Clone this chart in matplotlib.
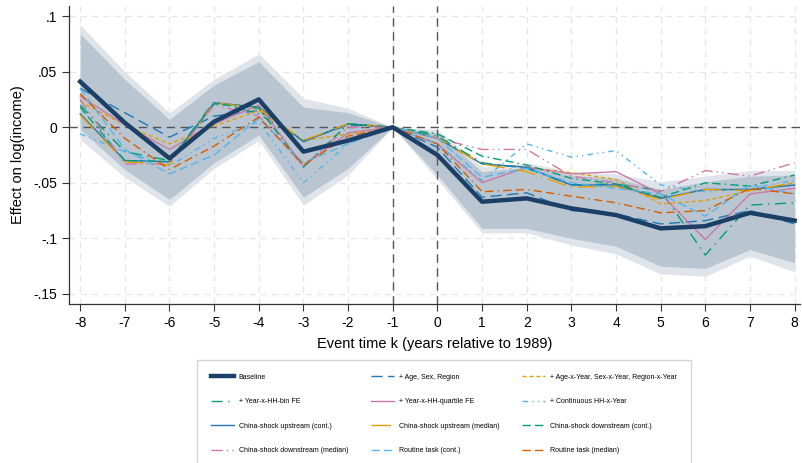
import matplotlib
matplotlib.use("Agg")
import matplotlib.pyplot as plt
import numpy as np

plt.rcParams['font.family'] = ['Liberation Sans', 'DejaVu Sans']

k = list(range(-8, 9))

baseline = [0.041, 0.004, -0.028, 0.005, 0.025, -0.022, -0.012, 0.0,
            -0.025, -0.067, -0.064, -0.073, -0.079, -0.091, -0.089, -0.077, -0.084]
ci_in_hi = [0.084, 0.043, 0.007, 0.038, 0.059, 0.018, 0.013, 0.0,
            -0.005, -0.040, -0.036, -0.043, -0.046, -0.056, -0.049, -0.044, -0.043]
ci_in_lo = [-0.002, -0.038, -0.065, -0.032, -0.007, -0.063, -0.037, 0.0,
            -0.043, -0.091, -0.091, -0.100, -0.107, -0.125, -0.127, -0.110, -0.122]
ci_out_hi = [0.092, 0.050, 0.013, 0.043, 0.066, 0.026, 0.017, 0.0,
             -0.002, -0.036, -0.032, -0.040, -0.042, -0.049, -0.044, -0.039, -0.039]
ci_out_lo = [-0.011, -0.045, -0.071, -0.037, -0.012, -0.070, -0.043, 0.0,
             -0.047, -0.095, -0.095, -0.106, -0.114, -0.132, -0.134, -0.116, -0.130]

age_sex_region = [0.035, 0.013, -0.009, 0.010, 0.015, -0.012, 0.002, 0.0,
                  -0.018, -0.063, -0.059, -0.075, -0.078, -0.087, -0.084, -0.075, -0.087]
age_x_year = [0.023, 0.002, -0.015, 0.001, 0.015, -0.012, -0.006, 0.0,
              -0.010, -0.033, -0.036, -0.041, -0.047, -0.069, -0.066, -0.057, -0.050]
hh_bin = [0.020, -0.022, -0.030, 0.023, 0.012, -0.013, 0.003, 0.0,
          -0.008, -0.032, -0.037, -0.052, -0.051, -0.057, -0.115, -0.070, -0.068]
hh_quartile = [0.028, 0.002, -0.020, 0.003, 0.020, -0.035, -0.005, 0.0,
               -0.015, -0.050, -0.036, -0.042, -0.040, -0.060, -0.101, -0.060, -0.055]
hh_cont = [-0.006, -0.022, -0.035, -0.010, 0.005, -0.050, -0.015, 0.0,
           -0.015, -0.048, -0.015, -0.027, -0.021, -0.052, -0.058, -0.055, -0.048]
cs_up_cont = [0.012, -0.030, -0.031, 0.022, 0.018, -0.013, 0.003, 0.0,
              -0.010, -0.033, -0.036, -0.052, -0.052, -0.064, -0.056, -0.056, -0.052]
cs_up_med = [0.011, -0.031, -0.034, 0.022, 0.017, -0.012, 0.003, 0.0,
             -0.010, -0.033, -0.040, -0.054, -0.053, -0.065, -0.056, -0.057, -0.050]
cs_down_cont = [0.018, -0.030, -0.031, 0.021, 0.017, -0.036, 0.003, 0.0,
                -0.006, -0.026, -0.034, -0.046, -0.051, -0.063, -0.050, -0.053, -0.043]
cs_down_med = [0.025, -0.033, -0.033, 0.020, 0.010, -0.035, 0.000, 0.0,
               -0.010, -0.020, -0.020, -0.044, -0.050, -0.058, -0.039, -0.044, -0.032]
routine_cont = [0.035, -0.020, -0.042, -0.025, 0.008, -0.032, -0.015, 0.0,
                -0.010, -0.045, -0.037, -0.050, -0.055, -0.060, -0.080, -0.052, -0.060]
routine_med = [0.030, -0.010, -0.038, -0.017, 0.009, -0.034, -0.008, 0.0,
               -0.015, -0.058, -0.056, -0.062, -0.068, -0.077, -0.075, -0.055, -0.060]

yticks = [0.1, 0.05, 0, -0.05, -0.1, -0.15]
ytick_labels = ['.1', '.05', '0', '-.05', '-.1', '-.15']

fig = plt.figure(figsize=(8.03, 4.63), dpi=100)
ax = fig.add_axes([69/803, 1-304/463, (800-69)/803, (304-6)/463])

ax.fill_between(k, ci_out_lo, ci_out_hi, color='#dfe4ea', lw=0, zorder=1)
ax.fill_between(k, ci_in_lo, ci_in_hi, color='#b9c6d1', lw=0, zorder=2)

ax.grid(True, color='#e6e6e6', ls=(0, (5, 4)), lw=0.9, zorder=0)
ax.set_axisbelow(True)
ax.axhline(0, color='#555555', ls=(0, (6, 4)), lw=1.0, zorder=3)
ax.axvline(-1, color='#555555', ls=(0, (6, 4)), lw=1.0, zorder=3)
ax.axvline(0, color='#555555', ls=(0, (6, 4)), lw=1.0, zorder=3)

blue = '#1f78b4'
yellow = '#E69F00'
green = '#009E73'
pink = '#CC79A7'
sky = '#56B4E9'
verm = '#D55E00'

lines = []
lines.append(ax.plot(k, baseline, color='#1b3f66', lw=3.2, zorder=10, label='Baseline')[0])
lines.append(ax.plot(k, age_sex_region, color=blue, lw=1.0, ls=(0, (8, 4)), zorder=5, label='+ Age, Sex, Region')[0])
lines.append(ax.plot(k, age_x_year, color=yellow, lw=1.0, ls=(0, (3, 2)), zorder=5, label='+ Age-x-Year, Sex-x-Year, Region-x-Year')[0])
lines.append(ax.plot(k, hh_bin, color=green, lw=1.0, ls=(0, (8, 4, 1, 4)), zorder=5, label='+ Year-x-HH-bin FE')[0])
lines.append(ax.plot(k, hh_quartile, color=pink, lw=1.0, ls='-', zorder=5, label='+ Year-x-HH-quartile FE')[0])
lines.append(ax.plot(k, hh_cont, color=sky, lw=1.0, ls=(0, (4, 3, 1, 3, 1, 3)), zorder=5, label='+ Continuous HH-x-Year')[0])
lines.append(ax.plot(k, cs_up_cont, color=blue, lw=1.0, ls='-', zorder=5, label='China-shock upstream (cont.)')[0])
lines.append(ax.plot(k, cs_up_med, color=yellow, lw=1.0, ls=(0, (14, 4, 1, 4)), zorder=5, label='China-shock upstream (median)')[0])
lines.append(ax.plot(k, cs_down_cont, color=green, lw=1.0, ls=(0, (6, 3, 6, 3, 1, 3)), zorder=5, label='China-shock downstream (cont.)')[0])
lines.append(ax.plot(k, cs_down_med, color=pink, lw=1.0, ls=(0, (8, 3, 1, 3, 1, 3)), zorder=5, label='China-shock downstream (median)')[0])
lines.append(ax.plot(k, routine_cont, color=sky, lw=1.0, ls=(0, (6, 3)), zorder=5, label='Routine task (cont.)')[0])
lines.append(ax.plot(k, routine_med, color=verm, lw=1.0, ls=(0, (6, 3, 6, 3, 1, 3)), zorder=5, label='Routine task (median)')[0])

ax.set_xlim(-8.25, 8.12)
ax.set_ylim(-0.159, 0.109)
ax.set_xticks(k)
ax.set_xticklabels([str(v) for v in k])
ax.set_yticks(yticks)
ax.set_yticklabels(ytick_labels)
ax.tick_params(axis='both', labelsize=10, length=5, width=0.8, color='#333333', direction='out')
for s in ['top', 'right']:
    ax.spines[s].set_visible(False)
for s in ['left', 'bottom']:
    ax.spines[s].set_color('#333333')
    ax.spines[s].set_linewidth(0.9)

ax.set_xlabel('Event time k (years relative to 1989)', fontsize=10.5, labelpad=5)
ax.set_ylabel('Effect on log(income)', fontsize=10.5, labelpad=6)

# legend filled row-wise: reorder for matplotlib's column-major filling
ncol = 3
order = [r * ncol + c for c in range(ncol) for r in range(len(lines) // ncol)]
handles = [lines[i] for i in order]
leg = fig.legend(handles=handles, ncol=ncol, loc='upper left',
                 bbox_to_anchor=(197/803, 1-360/463),
                 fontsize=5.0, frameon=True, fancybox=False,
                 edgecolor='#cccccc', handlelength=3.3, handletextpad=0.7,
                 columnspacing=3.3, labelspacing=2.5, borderpad=2.0,
                 borderaxespad=0)
leg.get_frame().set_linewidth(1.0)

fig.savefig('out.png', dpi=100)
